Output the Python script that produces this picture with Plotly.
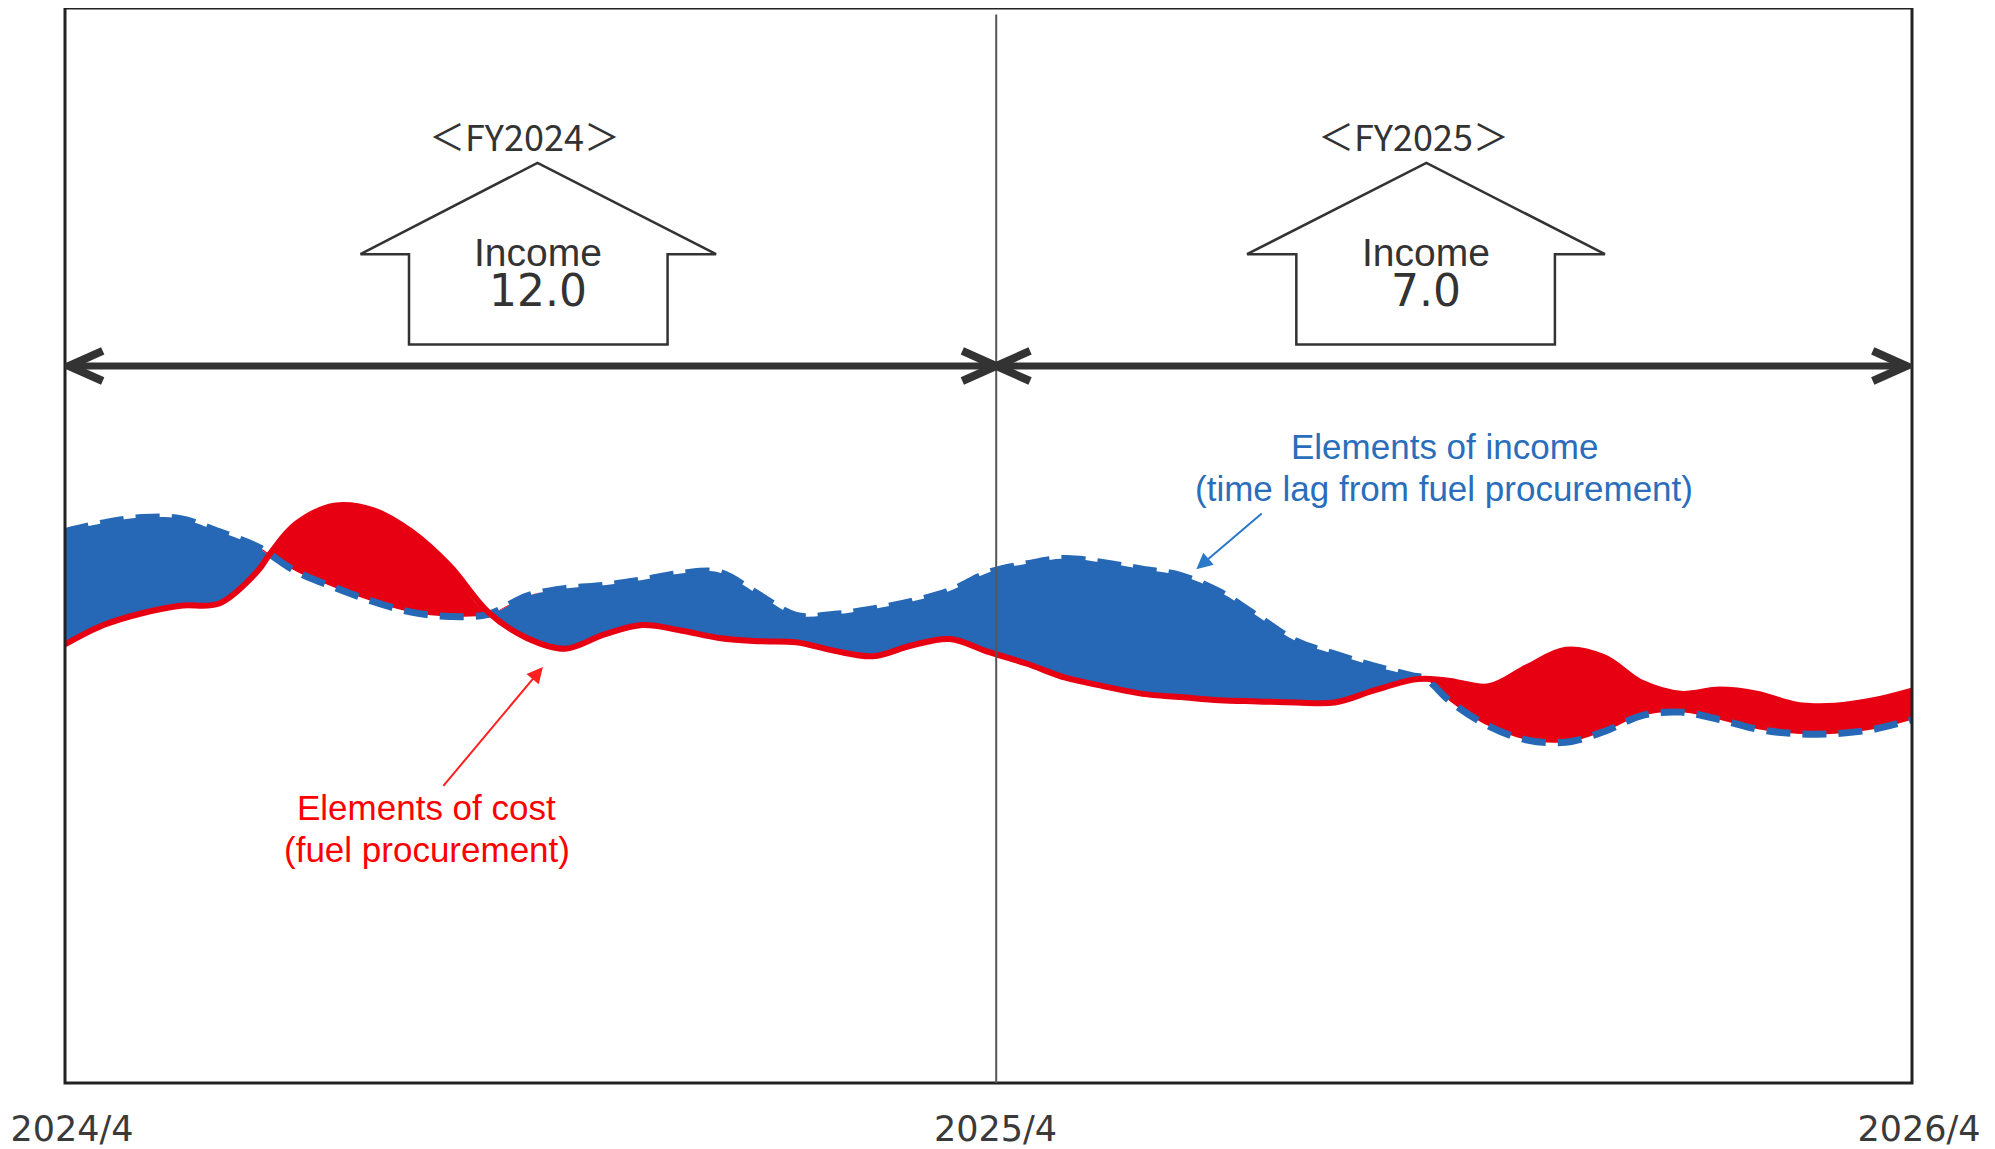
import plotly.graph_objects as go

# ---- data (months since 2024/4, index values) ----
months = [0, 0.5, 1, 1.5, 2, 2.5, 2.66, 3, 3.5, 4, 4.5, 5, 5.5, 6, 6.5, 7, 7.5, 8, 8.5, 9, 9.5, 10, 10.5,
          11, 11.5, 12, 12.5, 13, 13.5, 14, 14.5, 15, 15.5, 16, 16.5, 17, 17.5, 17.68, 18, 18.5, 19, 19.5,
          20, 20.5, 21, 21.5, 22, 22.5, 23, 23.5, 24]
cost = [40.8, 42.6, 43.7, 44.4, 44.6, 47.6, 49.2, 52.0, 53.7, 53.3, 51.3, 48.1, 43.8, 41.4, 40.4, 41.7, 42.6,
        42.1, 41.4, 41.1, 41.0, 40.2, 39.7, 40.7, 41.3, 40.1, 39.0, 37.7, 36.9, 36.2, 35.9, 35.6, 35.5,
        35.4, 35.4, 36.5, 37.5, 37.6, 37.4, 36.9, 38.7, 40.3, 39.6, 37.2, 36.2, 36.6, 36.2, 35.2, 35.1, 35.6, 36.5]
income = [51.3, 52.1, 52.6, 52.5, 51.3, 49.9, 49.2, 47.6, 46.1, 44.8, 43.8, 43.4, 43.6, 45.3, 46.0, 46.3, 46.8,
          47.4, 47.5, 45.5, 43.5, 43.6, 44.1, 44.8, 45.8, 47.5, 48.3, 48.8, 48.4, 47.8, 47.2, 45.7, 43.4,
          41.1, 39.9, 38.8, 37.9, 37.6, 35.5, 33.2, 31.9, 31.7, 32.7, 34.2, 34.5, 33.8, 32.9, 32.5, 32.5, 32.9, 33.8]
tick_vals = [0, 12, 24]
tick_text = ["2024/4", "2025/4", "2026/4"]
fy_labels = ["＜FY2024＞", "＜FY2025＞"]
fy_income = ["12.0", "7.0"]
fy_center = [6.14, 17.69]
fy_boundary = 12.1

upper = [max(a, b) for a, b in zip(cost, income)]

BLUE = "#2668b5"
RED = "#e60012"
DARK = "#333333"

fig = go.Figure()
fig.add_trace(go.Scatter(x=months, y=cost, mode="lines", line=dict(width=0, shape="spline"),
                         hoverinfo="skip", showlegend=False))
fig.add_trace(go.Scatter(x=months, y=upper, mode="lines", line=dict(width=0, shape="spline"),
                         fill="tonexty", fillcolor=BLUE, hoverinfo="skip", showlegend=False))
fig.add_trace(go.Scatter(x=months, y=income, mode="lines", line=dict(width=0, shape="spline"),
                         hoverinfo="skip", showlegend=False))
fig.add_trace(go.Scatter(x=months, y=upper, mode="lines", line=dict(width=0, shape="spline"),
                         fill="tonexty", fillcolor=RED, hoverinfo="skip", showlegend=False))
fig.add_trace(go.Scatter(x=months, y=income, mode="lines", name="Elements of income",
                         line=dict(width=7, color=BLUE, dash="24px,12px", shape="spline"),
                         showlegend=False))
fig.add_trace(go.Scatter(x=months, y=cost, mode="lines", name="Elements of cost",
                         line=dict(width=6, color=RED, shape="spline"), showlegend=False))

shapes = []
# frame
shapes.append(dict(type="rect", xref="paper", yref="paper", x0=0, x1=1, y0=0, y1=1,
                   line=dict(color="#222222", width=3), layer="above"))
# fiscal-year divider
shapes.append(dict(type="line", x0=fy_boundary, x1=fy_boundary, y0=0, y1=99.4,
                   line=dict(color="#555555", width=2), layer="above"))

# double arrows
ay = 66.7
dx, dy = 0.44, 1.4
for (a, b) in [(0.05, fy_boundary), (fy_boundary, 23.93)]:
    shapes.append(dict(type="line", x0=a, x1=b, y0=ay, y1=ay, line=dict(color=DARK, width=7)))
    shapes.append(dict(type="path", path=f"M {a+dx},{ay+dy} L {a},{ay} L {a+dx},{ay-dy}",
                       line=dict(color=DARK, width=8)))
    shapes.append(dict(type="path", path=f"M {b-dx},{ay+dy} L {b},{ay} L {b-dx},{ay-dy}",
                       line=dict(color=DARK, width=8)))

# house (block arrow) shapes
house_geo = [(4.47, 7.83, 3.84, 8.46, 6.14), (16.0, 19.36, 15.36, 20.01, 17.69)]
for (bl, br, rl, rr, ap) in house_geo:
    shapes.append(dict(type="path",
                       path=f"M {bl},68.7 L {bl},77.1 L {rl},77.1 L {ap},85.6 L {rr},77.1 L {br},77.1 L {br},68.7 Z",
                       line=dict(color=DARK, width=2.5), fillcolor="white"))

annotations = []
for lab, val, cx in zip(fy_labels, fy_income, fy_center):
    annotations.append(dict(x=cx - 0.17, y=88.2, text=lab, showarrow=False,
                            font=dict(family="Noto Sans CJK JP", size=36, color=DARK)))
    annotations.append(dict(x=cx, y=75.3, showarrow=False,
                            text=("<span style='font-family:Liberation Sans;font-size:39px'>Income</span><br>"
                                  f"<span style='font-family:DejaVu Sans;font-size:44px'>{val}</span>"),
                            font=dict(family="Liberation Sans", size=31, color=DARK)))

# callouts
annotations.append(dict(x=17.92, y=59.2, text="Elements of income", showarrow=False,
                        font=dict(family="Liberation Sans", size=35, color="#2a6ebb")))
annotations.append(dict(x=17.92, y=55.3, text="(time lag from fuel procurement)", showarrow=False,
                        font=dict(family="Liberation Sans", size=35, color="#2a6ebb")))
annotations.append(dict(x=14.70, y=47.8, ax=15.57, ay=53.1, axref="x", ayref="y", text="",
                        showarrow=True, arrowhead=2, arrowsize=1.6, arrowwidth=2, arrowcolor="#2a78c8"))
annotations.append(dict(x=4.70, y=25.6, text="Elements of cost", showarrow=False,
                        font=dict(family="Liberation Sans", size=35, color="#ff0000")))
annotations.append(dict(x=4.70, y=21.7, text="(fuel procurement)", showarrow=False,
                        font=dict(family="Liberation Sans", size=35, color="#ff0000")))
annotations.append(dict(x=6.21, y=38.7, ax=4.90, ay=27.5, axref="x", ayref="y", text="",
                        showarrow=True, arrowhead=2, arrowsize=1.6, arrowwidth=2, arrowcolor="#ff2020"))

fig.update_layout(
    width=1987, height=1141,
    margin=dict(l=57, r=83, t=0, b=55),
    paper_bgcolor="white", plot_bgcolor="white",
    shapes=shapes, annotations=annotations,
    xaxis=dict(range=[0, 24], tickvals=tick_vals, ticktext=tick_text, showgrid=False, zeroline=False,
               showline=False, ticks="", ticklabelshift=7, ticklabelstandoff=22,
               tickfont=dict(family="DejaVu Sans", size=35, color="#3a3a3a")),
    yaxis=dict(range=[0, 100], showticklabels=False, showgrid=False, zeroline=False, showline=False, ticks=""),
)

fig.write_html("out.html")
